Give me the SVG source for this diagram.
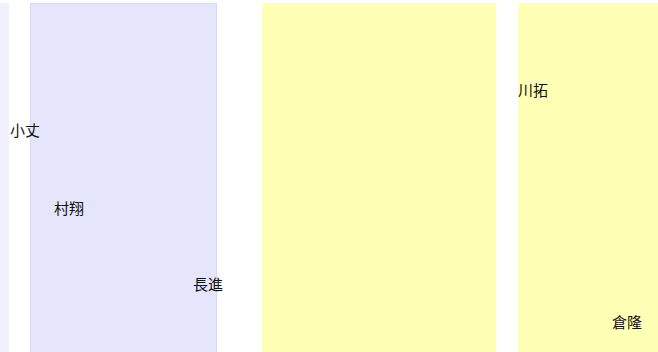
<svg xmlns="http://www.w3.org/2000/svg" width="658" height="352" viewBox="0 0 658 352">
<style>
.lav{fill:#e5e5fc;stroke:#d8d8f6;stroke-width:1}
.lav2{fill:#f1f1fe}
.yel{fill:#ffffb5}
.t{font-family:"Noto Sans CJK SC","Noto Sans CJK JP",sans-serif;font-size:15px;fill:#111}
</style>
<g id="bg">
<rect class="lav2" x="0" y="3" width="9" height="352"/>
<rect id="lane1" class="lav" x="30.5" y="3.5" width="186" height="352"/>
<rect id="lane2" class="yel" x="262" y="3" width="234" height="352"/>
<rect id="lane3" class="yel" x="518" y="3" width="140" height="352"/>
</g>
<g id="connectors"/>
<g id="n1"><text class="t" x="10" y="136">小丈</text></g>
<g id="n2"><text class="t" x="54" y="214">村翔</text></g>
<g id="n3"><text class="t" x="193" y="290">長進</text></g>
<g id="n4"><text class="t" x="518" y="96">川拓</text></g>
<g id="n5"><text class="t" x="612" y="328">倉隆</text></g>
</svg>
